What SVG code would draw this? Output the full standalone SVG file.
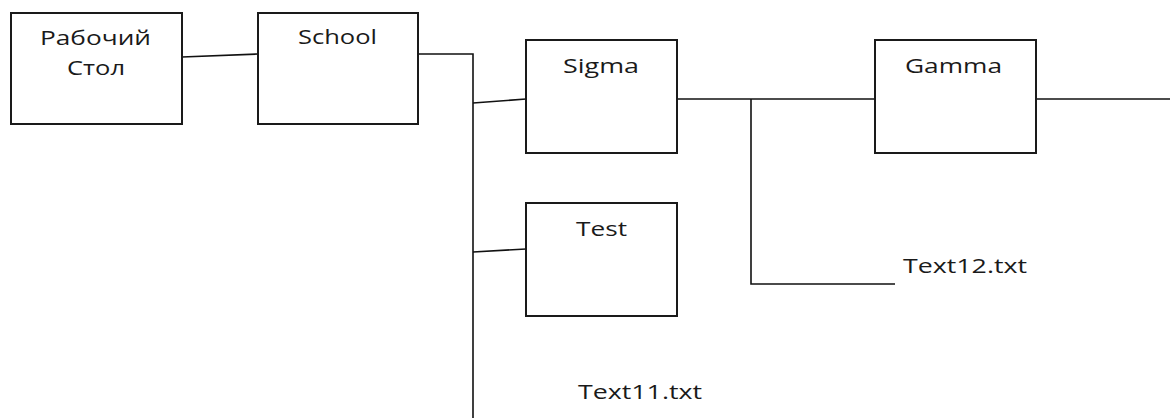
<svg xmlns="http://www.w3.org/2000/svg" width="1170" height="418" viewBox="0 0 1170 418">
<style>
.box{fill:#fff;stroke:#1a1a1a;stroke-width:2}
.ln{fill:none;stroke:#111;stroke-width:1.6}
.t{font-family:"Open Sans","DejaVu Sans",sans-serif;font-size:20.5px;fill:#1a1a1a}
</style>
<rect width="1170" height="418" fill="#fff"/>
<g id="connectors">
<line class="ln" x1="182" y1="57" x2="258" y2="54"/>
<polyline class="ln" points="418,54 473,54 473,418"/>
<line class="ln" x1="473" y1="103" x2="526" y2="99"/>
<line class="ln" x1="473" y1="252" x2="526" y2="249"/>
<line class="ln" x1="677" y1="99" x2="875" y2="99"/>
<polyline class="ln" points="751,99 751,284 895,284"/>
<line class="ln" x1="1036" y1="99" x2="1170" y2="99"/>
</g>
<g id="node-rabochiy">
<rect class="box" x="11" y="13" width="171" height="111"/>
<text class="t" x="40" y="45" textLength="111" lengthAdjust="spacingAndGlyphs">Рабочий</text>
<text class="t" x="67" y="75" textLength="58" lengthAdjust="spacingAndGlyphs">Стол</text>
</g>
<g id="node-school">
<rect class="box" x="258" y="13" width="160" height="111"/>
<text class="t" x="298" y="44" textLength="79" lengthAdjust="spacingAndGlyphs">School</text>
</g>
<g id="node-sigma">
<rect class="box" x="526" y="40" width="151" height="113"/>
<text class="t" x="563" y="73" textLength="76" lengthAdjust="spacingAndGlyphs">Sigma</text>
</g>
<g id="node-gamma">
<rect class="box" x="875" y="40" width="161" height="113"/>
<text class="t" x="905" y="73" textLength="97" lengthAdjust="spacingAndGlyphs">Gamma</text>
</g>
<g id="node-test">
<rect class="box" x="526" y="203" width="151" height="113"/>
<text class="t" x="576" y="236" textLength="51" lengthAdjust="spacingAndGlyphs">Test</text>
</g>
<g id="node-text12">
<text class="t" x="903" y="273" textLength="124" lengthAdjust="spacingAndGlyphs">Text12.txt</text>
</g>
<g id="node-text11">
<text class="t" x="578" y="399" textLength="124" lengthAdjust="spacingAndGlyphs">Text11.txt</text>
</g>
</svg>
